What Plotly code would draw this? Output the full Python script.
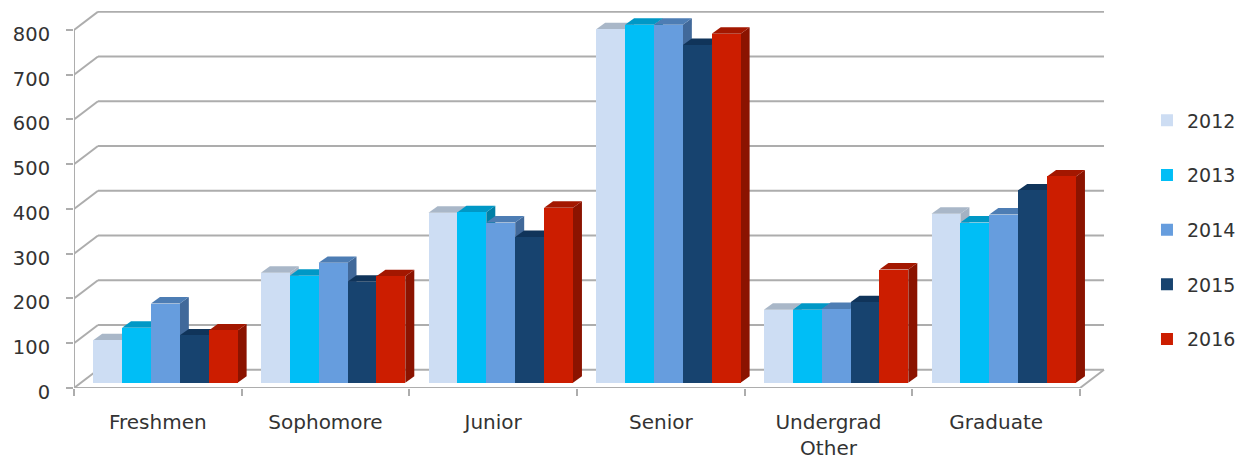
import plotly.graph_objects as go

categories = ["Freshmen", "Sophomore", "Junior", "Senior", "Undergrad<br>Other", "Graduate"]
years = ["2012", "2013", "2014", "2015", "2016"]
v2012 = [95, 246, 380, 790, 163, 378]
v2013 = [123, 239, 381, 800, 163, 358]
v2014 = [177, 268, 358, 800, 165, 376]
v2015 = [106, 226, 326, 755, 180, 430]
v2016 = [117, 238, 391, 780, 253, 461]
series = [v2012, v2013, v2014, v2015, v2016]
front = ["#CDDDF3", "#00BEF6", "#669DDE", "#17436F", "#CC1D00"]
top = ["#A9B7C8", "#0098C6", "#4D7DB4", "#10345A", "#A31700"]
side = ["#A5B2C3", "#007FA6", "#41699A", "#0E2D4E", "#8B1300"]
grid_values = [0, 100, 200, 300, 400, 500, 600, 700, 800]

PAGE = 8                               # default page margin around the figure (px)
W, H = 1244 - PAGE, 465 - PAGE
X0, X1, XR = 73.5 - PAGE, 1080.0 - PAGE, 1106.0 - PAGE      # axis start, axis end, back wall end
Y0, Y800, YTOP = 388.5 - PAGE, 30.0 - PAGE, 11.0 - PAGE     # value 0, value 800, top of plot
CAT = (X1 - X0) / len(categories)
SCALE = (Y0 - Y800) / 800
GRAY = "#ADADAD"
FONT = "DejaVu Sans"

dxu = lambda px: px / CAT
dyu = lambda px: px / SCALE

x_lo, x_hi = -0.5, -0.5 + dxu(XR - X0)
y_hi = dyu(Y0 - YTOP)

wall_dx, wall_dy = dxu(24), dyu(18.3)
bar_lift = dyu(5.2)
bar_w = dxu(28.9)
bar_left = dxu(19.2) - 0.5
depth_dx, depth_dy = dxu(9), dyu(6.5)

shapes = []


def line(xa, ya, xb, yb, width=2):
    shapes.append(dict(type="line", xref="x", yref="y", x0=xa, y0=ya, x1=xb, y1=yb,
                       layer="below", line=dict(color=GRAY, width=width)))


def poly(points, color):
    path = "M" + "L".join(f"{a},{b}" for a, b in points) + "Z"
    shapes.append(dict(type="path", xref="x", yref="y", path=path, layer="below",
                       fillcolor=color, line=dict(width=0)))


n = len(categories)
for g in grid_values:
    line(-0.5, g, -0.5 + wall_dx, g + wall_dy)
    line(-0.5 + wall_dx, g + wall_dy, n - 0.5 + wall_dx, g + wall_dy)
line(-0.5, 0, n - 0.5, 0)
line(n - 0.5, 0, n - 0.5 + wall_dx, wall_dy)
line(-0.5, 0, -0.5, grid_values[-1])

for c in range(n):
    for s, vals in enumerate(series):
        left = c + bar_left + s * bar_w
        right = left + bar_w
        lo = bar_lift
        hi = bar_lift + vals[c]
        poly([(right, lo), (right + depth_dx, lo + depth_dy),
              (right + depth_dx, hi + depth_dy), (right, hi)], side[s])
        poly([(left, hi), (left + depth_dx, hi + depth_dy),
              (right + depth_dx, hi + depth_dy), (right, hi)], top[s])

fig = go.Figure()
for s, year in enumerate(years):
    fig.add_trace(go.Bar(
        x=categories, y=series[s], base=bar_lift, name=year,
        width=bar_w, offset=bar_left + s * bar_w,
        marker=dict(color=front[s], line=dict(width=0)),
        legendgroup=year, hoverinfo="x+y+name",
    ))

fig.update_layout(
    width=W, height=H, barmode="overlay",
    margin=dict(l=X0, r=W - XR, t=YTOP, b=H - Y0, pad=0, autoexpand=False),
    paper_bgcolor="white", plot_bgcolor="white",
    font=dict(family=FONT, size=20, color="#333333"),
    shapes=shapes,
    xaxis=dict(type="category", categoryorder="array", categoryarray=categories,
               range=[x_lo, x_hi], showgrid=False, zeroline=False, showline=False,
               tickson="boundaries", ticks="outside", ticklen=7, tickwidth=1.5, tickcolor=GRAY,
               ticklabelstandoff=20, tickfont=dict(size=20)),
    yaxis=dict(range=[0, y_hi], tickvals=grid_values, showgrid=False, zeroline=False,
               showline=False, ticks="outside", ticklen=7, tickwidth=1.5, tickcolor=GRAY,
               ticklabelstandoff=12, ticklabelshift=4, tickfont=dict(size=19.5)),
    legend=dict(x=(1147 - PAGE - X0) / (XR - X0), xanchor="left",
                y=(Y0 - (101.5 - PAGE)) / (Y0 - YTOP), yanchor="top",
                tracegroupgap=27, traceorder="grouped", font=dict(size=19), itemclick=False,
                bgcolor="rgba(0,0,0,0)"),
    bargap=0,
)
fig.write_html("out.html")
